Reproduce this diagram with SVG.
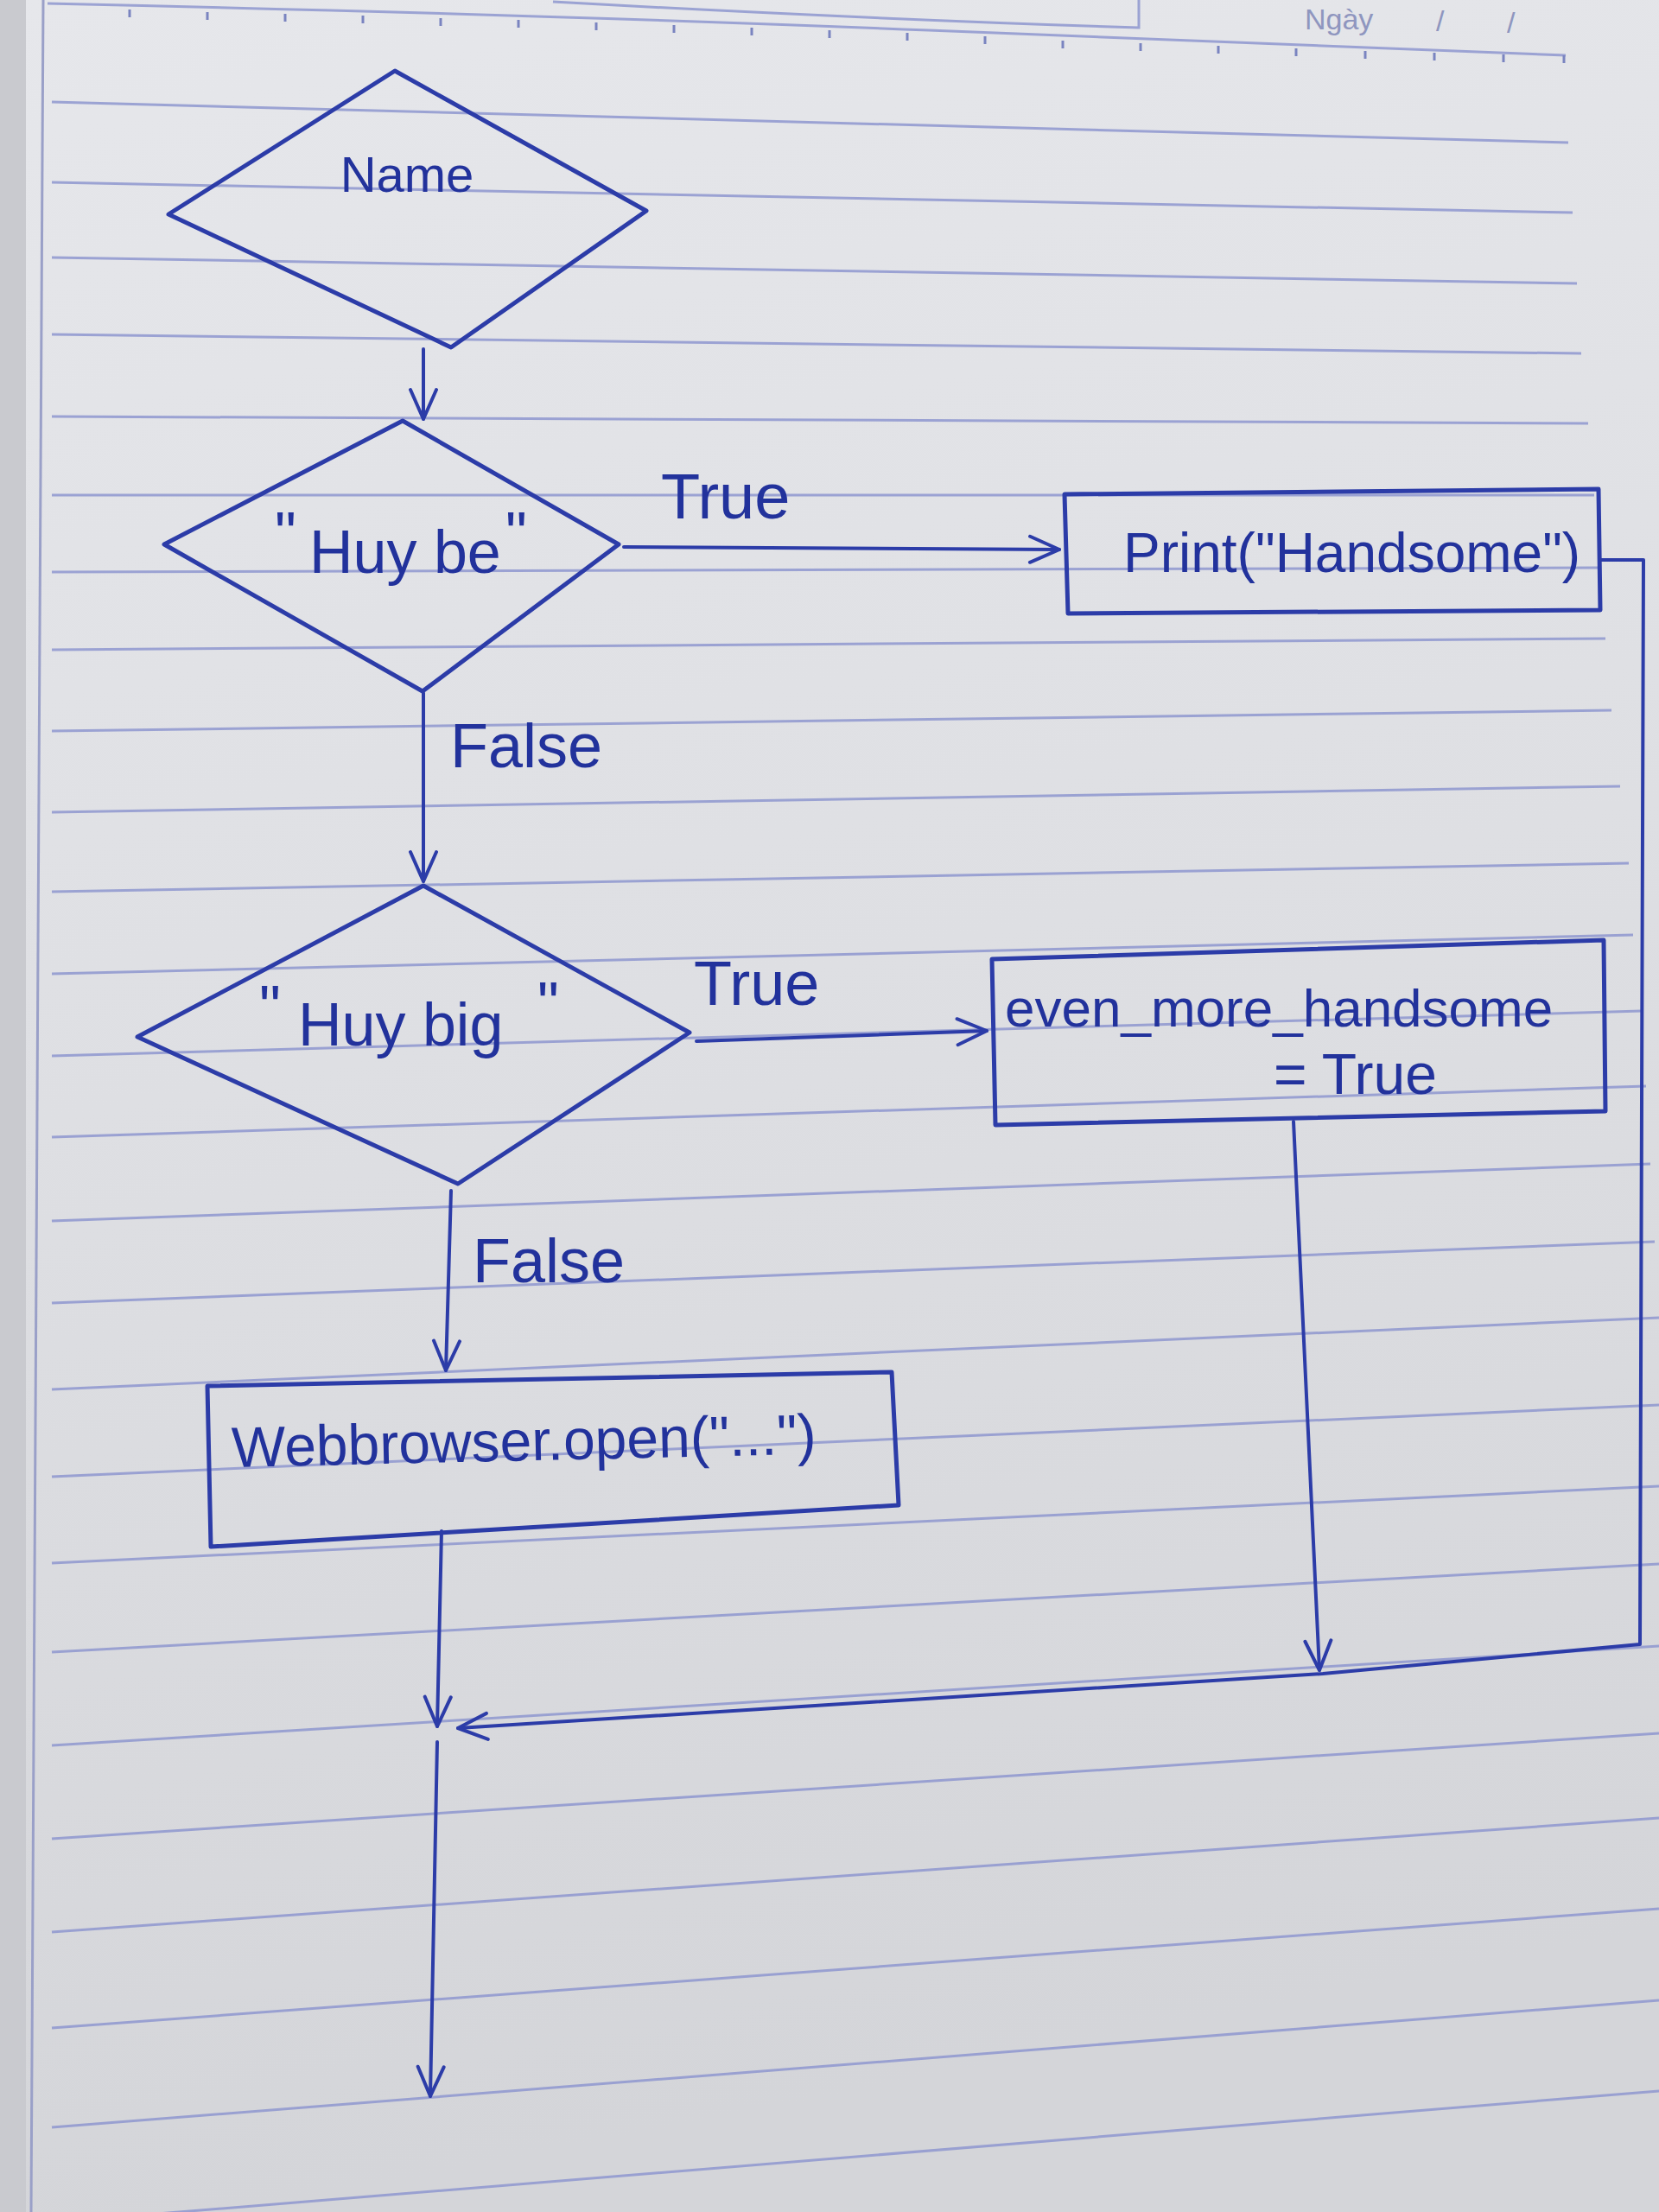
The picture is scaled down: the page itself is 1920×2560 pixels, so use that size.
<svg xmlns="http://www.w3.org/2000/svg" width="1920" height="2560" viewBox="0 0 1920 2560">
<defs>
<linearGradient id="paper" x1="0" y1="0" x2="0.15" y2="1">
<stop offset="0" stop-color="#e6e7eb"/>
<stop offset="0.5" stop-color="#dedfe3"/>
<stop offset="1" stop-color="#d4d5d9"/>
</linearGradient>
<marker id="arr" viewBox="0 0 40 40" refX="38" refY="20" markerWidth="40" markerHeight="40" markerUnits="userSpaceOnUse" orient="auto">
<path d="M4,5 L38,20 L4,35" fill="none" stroke="#2c3ca8" stroke-width="4" stroke-linecap="round" stroke-linejoin="round"/>
</marker>
<style>
.rule{fill:none;stroke:#8e97cf;stroke-width:3;opacity:0.85}
.tick{stroke:#7a84c0;stroke-width:3}
.shape{fill:none;stroke:#2c3ca8;stroke-width:5;stroke-linejoin:round;stroke-linecap:round}
.conn{fill:none;stroke:#2c3ca8;stroke-width:4;stroke-linecap:round;stroke-linejoin:round}
.ink{font-family:"Liberation Sans",Arial,sans-serif;fill:#22329c}
.hdr{font-family:"Liberation Sans",Arial,sans-serif;fill:#8f96bf}
</style>
</defs>

<g id="paper-bg">
<rect x="0" y="0" width="1920" height="2560" fill="url(#paper)"/>
<rect x="0" y="0" width="30" height="2560" fill="#c9cacf"/>
<line x1="50" y1="0" x2="36" y2="2560" stroke="#9aa0c8" stroke-width="3"/>
<path class="rule" d="M55,4 Q600,16 1075,35 T1812,64"/>
<path class="rule" d="M640,2 Q1000,22 1318,32 L1318,0"/>
<g>
<line class="tick" x1="150" y1="11" x2="150" y2="20"/>
<line class="tick" x1="240" y1="14" x2="240" y2="23"/>
<line class="tick" x1="330" y1="16" x2="330" y2="25"/>
<line class="tick" x1="420" y1="18" x2="420" y2="27"/>
<line class="tick" x1="510" y1="21" x2="510" y2="30"/>
<line class="tick" x1="600" y1="23" x2="600" y2="32"/>
<line class="tick" x1="690" y1="26" x2="690" y2="35"/>
<line class="tick" x1="780" y1="29" x2="780" y2="38"/>
<line class="tick" x1="870" y1="32" x2="870" y2="41"/>
<line class="tick" x1="960" y1="35" x2="960" y2="44"/>
<line class="tick" x1="1050" y1="38" x2="1050" y2="47"/>
<line class="tick" x1="1140" y1="42" x2="1140" y2="51"/>
<line class="tick" x1="1230" y1="47" x2="1230" y2="56"/>
<line class="tick" x1="1320" y1="50" x2="1320" y2="59"/>
<line class="tick" x1="1410" y1="53" x2="1410" y2="62"/>
<line class="tick" x1="1500" y1="56" x2="1500" y2="65"/>
<line class="tick" x1="1580" y1="59" x2="1580" y2="68"/>
<line class="tick" x1="1660" y1="61" x2="1660" y2="70"/>
<line class="tick" x1="1740" y1="63" x2="1740" y2="72"/>
<line class="tick" x1="1810" y1="64" x2="1810" y2="73"/>
</g>
<text class="hdr" x="1510" y="34" font-size="34">Ngày</text>
<text class="hdr" x="1662" y="36" font-size="34">/</text>
<text class="hdr" x="1744" y="38" font-size="34">/</text>
<line class="rule" x1="60" y1="118" x2="1815" y2="165"/>
<line class="rule" x1="60" y1="211" x2="1820" y2="246"/>
<line class="rule" x1="60" y1="298" x2="1825" y2="328"/>
<line class="rule" x1="60" y1="387" x2="1830" y2="409"/>
<line class="rule" x1="60" y1="482" x2="1838" y2="490"/>
<line class="rule" x1="60" y1="573" x2="1845" y2="573"/>
<line class="rule" x1="60" y1="662" x2="1852" y2="657"/>
<line class="rule" x1="60" y1="752" x2="1858" y2="739"/>
<line class="rule" x1="60" y1="846" x2="1865" y2="822"/>
<line class="rule" x1="60" y1="940" x2="1875" y2="910"/>
<line class="rule" x1="60" y1="1032" x2="1885" y2="999"/>
<line class="rule" x1="60" y1="1127" x2="1890" y2="1082"/>
<line class="rule" x1="60" y1="1222" x2="1900" y2="1170"/>
<line class="rule" x1="60" y1="1316" x2="1905" y2="1257"/>
<line class="rule" x1="60" y1="1413" x2="1910" y2="1347"/>
<line class="rule" x1="60" y1="1508" x2="1915" y2="1437"/>
<line class="rule" x1="60" y1="1608" x2="1920" y2="1525"/>
<line class="rule" x1="60" y1="1709" x2="1920" y2="1626"/>
<line class="rule" x1="60" y1="1809" x2="1920" y2="1720"/>
<line class="rule" x1="60" y1="1912" x2="1920" y2="1810"/>
<line class="rule" x1="60" y1="2020" x2="1920" y2="1905"/>
<line class="rule" x1="60" y1="2128" x2="1920" y2="2006"/>
<line class="rule" x1="60" y1="2236" x2="1920" y2="2104"/>
<line class="rule" x1="60" y1="2347" x2="1920" y2="2209"/>
<line class="rule" x1="60" y1="2462" x2="1920" y2="2315"/>
<line class="rule" x1="60" y1="2572" x2="1920" y2="2420"/>
</g>

<g id="connectors">
<path class="conn" d="M490,404 L490,485" marker-end="url(#arr)"/>
<path class="conn" d="M722,633 L1226,636" marker-end="url(#arr)"/>
<path class="conn" d="M490,802 L490,1020" marker-end="url(#arr)"/>
<path class="conn" d="M806,1205 L1142,1193" marker-end="url(#arr)"/>
<path class="conn" d="M522,1378 L516,1586" marker-end="url(#arr)"/>
<path class="conn" d="M511,1772 L506,1998" marker-end="url(#arr)"/>
<path class="conn" d="M1497,1298 L1527,1933" marker-end="url(#arr)"/>
<path class="conn" d="M1852,648 L1902,648 L1898,1903 L1531,1937 L530,2000" marker-end="url(#arr)"/>
<path class="conn" d="M506,2016 L498,2426" marker-end="url(#arr)"/>
</g>

<g id="labels">
<text class="ink" x="765" y="600" font-size="74">True</text>
<text class="ink" x="521" y="888" font-size="72">False</text>
<text class="ink" x="803" y="1163" font-size="72">True</text>
<text class="ink" x="547" y="1484" font-size="72">False</text>
</g>

<g id="node-name">
<polygon class="shape" points="457,82 748,244 522,402 195,248"/>
<text class="ink" x="471" y="222" font-size="58" text-anchor="middle">Name</text>
</g>

<g id="node-huy-be">
<polygon class="shape" points="466,487 716,630 489,800 190,630"/>
<text class="ink" font-size="70"><tspan x="318" y="642">"</tspan><tspan x="358" y="663">Huy be</tspan><tspan x="585" y="642">"</tspan></text>
</g>

<g id="node-print">
<polygon class="shape" points="1232,572 1850,566 1852,706 1236,710"/>
<text class="ink" x="1300" y="662" font-size="64">Print("Handsome")</text>
</g>

<g id="node-huy-big">
<polygon class="shape" points="490,1025 798,1195 530,1370 159,1200"/>
<text class="ink" font-size="70"><tspan x="300" y="1190">"</tspan><tspan x="345" y="1210">Huy big</tspan><tspan x="622" y="1186">"</tspan></text>
</g>

<g id="node-even-more">
<polygon class="shape" points="1148,1110 1856,1088 1858,1286 1152,1302"/>
<text class="ink" x="1163" y="1188" font-size="62">even_more_handsome</text>
<text class="ink" x="1474" y="1266" font-size="66">= True</text>
</g>

<g id="node-webbrowser">
<polygon class="shape" points="240,1604 1032,1588 1040,1742 244,1790"/>
<text class="ink" x="268" y="1690" font-size="66" transform="rotate(-1.3 620 1670)">Webbrowser.open("...")</text>
</g>
</svg>
